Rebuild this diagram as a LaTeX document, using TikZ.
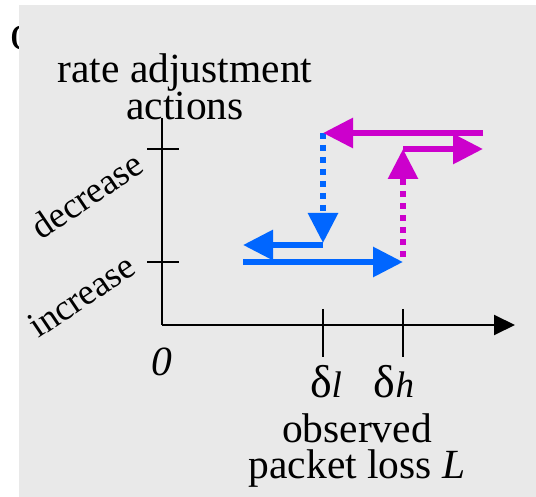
\documentclass[tikz,border=0pt]{standalone}
\usepackage{fontspec}
\setmainfont{Liberation Serif}
\usetikzlibrary{arrows.meta}
\definecolor{bg}{RGB}{233,233,233}
\definecolor{myblue}{RGB}{0,102,255}
\definecolor{mymag}{RGB}{204,0,204}
\tikzset{
  lbl/.style={inner sep=0pt, font=\fontsize{41.5}{36}\selectfont},
  rotlbl/.style={inner sep=0pt, font=\fontsize{36.5}{36}\selectfont, anchor=base east, rotate=34},
  axisline/.style={line width=2pt, black},
  flow/.style={line width=6pt, line cap=butt, -{Triangle[length=30pt,width=29pt]}},
  dotflow/.style={flow, dash pattern=on 6pt off 6pt},
  tickline/.style={line width=2pt, black},
}
\begin{document}
\begin{tikzpicture}[x=1pt,y=-1pt]
\useasboundingbox (0,0) rectangle (536,497);
% cut-off text at the left edge
\node[lbl, anchor=base west, font=\fontsize{50}{50}\selectfont] (frag) at (-19,50) {f o};
\fill[bg] (19,5) rectangle (537,498);

% axes
\coordinate (O) at (162,325);
\coordinate (ytop) at (162,118);
\coordinate (xend) at (515,325);
\draw[axisline] (ytop) -- (O);
\draw[axisline, -{Triangle[length=21pt,width=20pt]}] (O) -- (xend);

% y ticks
\coordinate (td1) at (147,149); \coordinate (td2) at (179,149);
\coordinate (ti1) at (147,262); \coordinate (ti2) at (179,262);
\draw[tickline] (td1) -- (td2);
\draw[tickline] (ti1) -- (ti2);
% x ticks
\coordinate (tl1) at (323,309); \coordinate (tl2) at (323,357);
\coordinate (th1) at (403,309); \coordinate (th2) at (403,357);
\draw[tickline] (tl1) -- (tl2);
\draw[tickline] (th1) -- (th2);

% labels
\node[lbl, align=center, anchor=base] (ylab) at (185,120) {rate adjustment\\actions};
\node[rotlbl] (dec) at (146,170) {decrease};
\node[rotlbl] (inc) at (138,272) {increase};
\node[lbl, anchor=base] (zero) at (162,375) {\itshape 0};
\node[lbl, anchor=base] (dl) at (326,397) {\fontsize{46}{46}\selectfont δ\fontsize{37}{37}\selectfont\itshape l};
\node[lbl, anchor=base] (dh) at (394,397) {\fontsize{46}{46}\selectfont δ\fontsize{37}{37}\selectfont\itshape h};
\node[lbl, align=center, anchor=base] (xlab) at (357,478) {observed\\packet loss \textit{L}};

% hysteresis arrows
\coordinate (b1) at (243,262); \coordinate (b2) at (403,262);
\coordinate (b3) at (323,245); \coordinate (b4) at (243,245);
\coordinate (b5) at (323,133); \coordinate (b6) at (323,243);
\coordinate (m1) at (483,133); \coordinate (m2) at (323,133);
\coordinate (m3) at (403,149); \coordinate (m4) at (483,149);
\coordinate (m5) at (403,257); \coordinate (m6) at (403,149);

\draw[flow, myblue] (b1) -- (b2);
\draw[flow, myblue] (b3) -- (b4);
\draw[dotflow, myblue] (b5) -- (b6);
\draw[flow, mymag] (m1) -- (m2);
\draw[flow, mymag] (m3) -- (m4);
\draw[dotflow, mymag] (m5) -- (m6);
\end{tikzpicture}
\end{document}
